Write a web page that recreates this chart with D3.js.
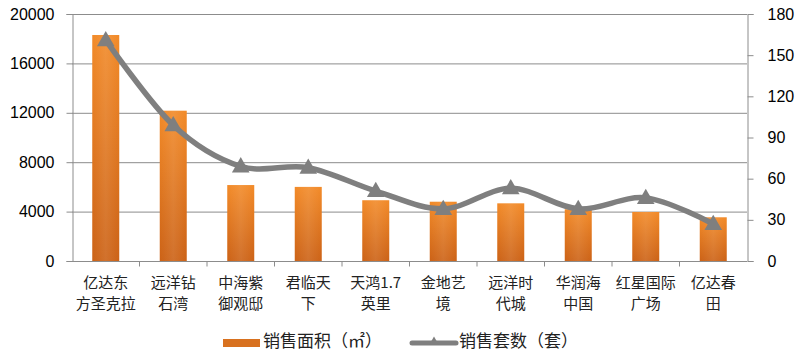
<!DOCTYPE html>
<html><head><meta charset="utf-8">
<script src="https://cdn.jsdelivr.net/npm/d3@7"></script>
<style>body{margin:0;background:#fff}svg{display:block}</style>
</head><body>
<svg id="c" width="800" height="355"></svg>
<script>
const categories = ["亿达东\n方圣克拉","远洋钻\n石湾","中海紫\n御观邸","君临天\n下","天鸿1.7\n英里","金地艺\n境","远洋时\n代城","华润海\n中国","红星国际\n广场","亿达春\n田"];
const areaValues = [18300, 12170, 6150, 6000, 4920, 4800, 4670, 4190, 3970, 3540];
const unitValues = [161, 99, 69, 68, 51, 38, 53, 38, 46, 27];
const leftTicks = [0, 4000, 8000, 12000, 16000, 20000];
const rightTicks = [0, 30, 60, 90, 120, 150, 180];
const seriesNames = ["销售面积（㎡）", "销售套数（套）"];

const svg = d3.select("#c");
const L = 72, R = 747, T = 14, B = 261;
const numFont = "'Liberation Sans', Arial, sans-serif";
const cjkFont = "'Noto Sans CJK SC', sans-serif";
const axisColor = "#8c8c8c";

const x = d3.scaleBand().domain(categories).range([L, R]).paddingInner(0.6).paddingOuter(0.3);
const xb = d3.scaleBand().domain(categories).range([L, R]);
const yL = d3.scaleLinear().domain([0, 20000]).range([B, T]);
const yR = d3.scaleLinear().domain([0, 180]).range([B, T]);

const defs = svg.append("defs");
const g = defs.append("linearGradient").attr("id","barg").attr("x1",0).attr("y1",0).attr("x2",0).attr("y2",1);
g.append("stop").attr("offset","0%").attr("stop-color","#F28A28");
g.append("stop").attr("offset","100%").attr("stop-color","#CC6216");
const gh = defs.append("linearGradient").attr("id","barh").attr("x1",0).attr("y1",0).attr("x2",1).attr("y2",0);
gh.append("stop").attr("offset","0%").attr("stop-color","#ffffff").attr("stop-opacity",0.0);
gh.append("stop").attr("offset","50%").attr("stop-color","#ffffff").attr("stop-opacity",0.1);
gh.append("stop").attr("offset","100%").attr("stop-color","#ffffff").attr("stop-opacity",0.0);

// gridlines
svg.append("g").selectAll("line").data(leftTicks.filter(d=>d>0)).join("line")
  .attr("x1", L).attr("x2", R).attr("y1", d=>yL(d)+0.5).attr("y2", d=>yL(d)+0.5)
  .attr("stroke", axisColor).attr("stroke-width", 1);

// left axis
const la = svg.append("g").attr("transform", `translate(${L+0.5},0)`)
  .call(d3.axisLeft(yL).tickValues(leftTicks).tickSize(6).tickPadding(12).tickFormat(d3.format("d")));
la.select(".domain").attr("stroke", axisColor);
la.selectAll(".tick line").attr("stroke", axisColor);
la.selectAll("text").attr("font-family", numFont).attr("font-size", 16).attr("fill", "#000");

// right axis
const ra = svg.append("g").attr("transform", `translate(${R+0.5},0)`)
  .call(d3.axisRight(yR).tickValues(rightTicks).tickSize(6).tickPadding(14));
ra.select(".domain").attr("stroke", axisColor);
ra.selectAll(".tick line").attr("stroke", axisColor);
ra.selectAll("text").attr("font-family", numFont).attr("font-size", 16).attr("fill", "#000");

// bars
svg.append("g").selectAll("rect").data(areaValues).join("rect")
  .attr("x", (d,i)=>x(categories[i])).attr("width", x.bandwidth())
  .attr("y", d=>yL(d)).attr("height", d=>B - yL(d))
  .attr("fill", "url(#barg)");
svg.append("g").selectAll("rect").data(areaValues).join("rect")
  .attr("x", (d,i)=>x(categories[i])).attr("width", x.bandwidth())
  .attr("y", d=>yL(d)).attr("height", d=>B - yL(d))
  .attr("fill", "url(#barh)");

// bottom axis
const ba = svg.append("g").attr("transform", `translate(0,${B+0.5})`);
ba.append("line").attr("x1", L).attr("x2", R).attr("stroke", axisColor);
ba.selectAll("line.t").data(categories.slice(1)).join("line").attr("class","t")
  .attr("x1", d=>xb(d)).attr("x2", d=>xb(d)).attr("y1",0).attr("y2",5).attr("stroke", axisColor);

// category labels
const lbl = svg.append("g").selectAll("text").data(categories).join("text")
  .attr("x", d=>xb(d)+xb.bandwidth()/2).attr("text-anchor","middle")
  .attr("font-family", cjkFont).attr("font-size", 15).attr("fill","#222");
lbl.each(function(d){
  const lines = d.split("\n");
  const t = d3.select(this);
  lines.forEach((s,k)=>t.append("tspan").attr("x", xb(d)+xb.bandwidth()/2).attr("y", 288 + k*21).text(s));
});

// line
const pts = unitValues.map((v,i)=>[xb(categories[i])+xb.bandwidth()/2, yR(v)]);
svg.append("path").attr("d", d3.line().curve(d3.curveCardinal.tension(0))(pts))
  .attr("fill","none").attr("stroke","#7F7F7F").attr("stroke-width",5.5).attr("stroke-linecap","round");
svg.append("g").selectAll("path").data(pts).join("path")
  .attr("transform", d=>`translate(${d[0]},${d[1]+1})`)
  .attr("d", d3.symbol(d3.symbolTriangle, 135))
  .attr("fill","#7F7F7F");

// legend
const lg = svg.append("g");
lg.append("rect").attr("x",223).attr("y",339).attr("width",37).attr("height",8).attr("fill","#D8711F");
lg.append("text").attr("x",263).attr("y",342).attr("dominant-baseline","middle")
  .attr("font-family", cjkFont).attr("font-size",17).attr("fill","#222").text(seriesNames[0]);
lg.append("line").attr("x1",412).attr("x2",456).attr("y1",343).attr("y2",343)
  .attr("stroke","#7F7F7F").attr("stroke-width",5).attr("stroke-linecap","round");
lg.append("path").attr("transform","translate(434,342)").attr("d", d3.symbol(d3.symbolTriangle, 40)).attr("fill","#7F7F7F");
lg.append("text").attr("x",459).attr("y",342).attr("dominant-baseline","middle")
  .attr("font-family", cjkFont).attr("font-size",17).attr("fill","#222").text(seriesNames[1]);
</script>
</body></html>
